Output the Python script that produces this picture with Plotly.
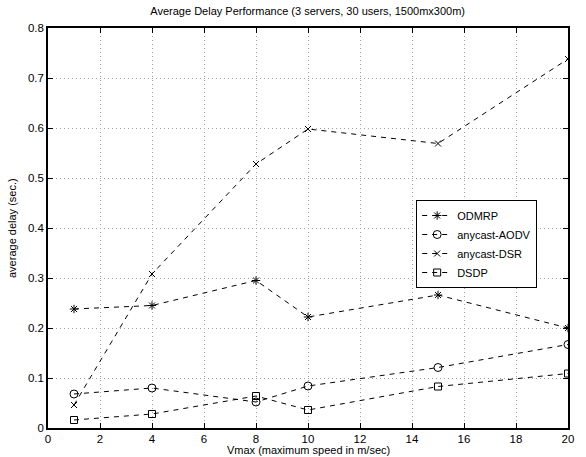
import plotly.graph_objects as go

vmax = [1, 4, 8, 10, 15, 20]
odmrp = [0.238, 0.245, 0.295, 0.222, 0.266, 0.200]
aodv = [0.068, 0.080, 0.052, 0.084, 0.121, 0.167]
dsr = [0.046, 0.308, 0.528, 0.598, 0.569, 0.738]
dsdp = [0.016, 0.028, 0.064, 0.036, 0.083, 0.109]

series = [
    ("ODMRP", odmrp, "asterisk-open", 7),
    ("anycast-AODV", aodv, "circle-open", 8),
    ("anycast-DSR", dsr, "x-thin-open", 6),
    ("DSDP", dsdp, "square-open", 7),
]

fig = go.Figure()
for name, ys, sym, sz in series:
    fig.add_trace(go.Scatter(
        x=vmax, y=ys, name=name, mode="lines+markers",
        line=dict(color="black", width=1, dash="5px,5px"),
        marker=dict(symbol=sym, size=sz, color="black", line=dict(color="black", width=1)),
    ))

font = "Liberation Sans, Arial, sans-serif"
axis_common = dict(
    showline=True, linecolor="black", linewidth=1.5, mirror="ticks",
    ticks="inside", ticklen=5, tickcolor="black",
    showgrid=True, gridcolor="#a0a0a0", griddash="1px,3px", gridwidth=1,
    zeroline=False, automargin=False,
    tickfont=dict(family=font, size=11.5, color="black"),
)
fig.update_xaxes(range=[0, 20], dtick=2, ticklabelstandoff=-1, **axis_common)
fig.update_yaxes(range=[0, 0.8], dtick=0.1, tickformat="~g", **axis_common)

fig.add_annotation(text="Vmax (maximum speed in m/sec)", xref="paper", yref="paper",
                   x=0.5, y=0, yanchor="middle", yshift=-22, showarrow=False,
                   font=dict(family=font, size=11, color="black"))
fig.add_annotation(text="average delay (sec.)", xref="paper", yref="paper",
                   x=0, y=0.5, xanchor="center", xshift=-36, textangle=-90, showarrow=False,
                   font=dict(family=font, size=11, color="black"))

fig.update_layout(
    width=586, height=457,
    margin=dict(l=48, r=18, t=28, b=29),
    plot_bgcolor="white", paper_bgcolor="white",
    title=dict(text="Average Delay Performance (3 servers, 30 users, 1500mx300m)",
               font=dict(family=font, size=11, color="black"), x=0.525, xanchor="center", y=0.985, yanchor="top"),
    legend=dict(x=0.708, y=0.57, xanchor="left", yanchor="top",
                bgcolor="white", bordercolor="black", borderwidth=1,
                font=dict(family=font, size=11, color="black"),
                tracegroupgap=0, itemwidth=30),
    showlegend=True,
)
fig.write_html("out.html", config={"displayModeBar": False},
               post_script="document.body.style.margin='0';document.body.style.padding='0';")
